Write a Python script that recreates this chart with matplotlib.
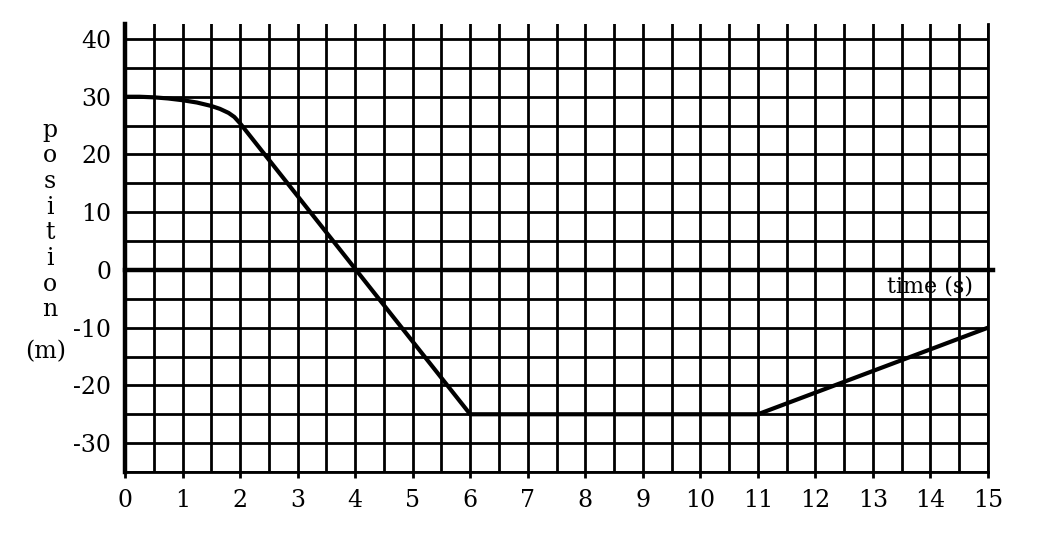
import matplotlib
matplotlib.use("Agg")
import matplotlib.pyplot as plt
import numpy as np

# data
time_s = [0, 0.25, 0.5, 0.75, 1.0, 1.25, 1.5, 1.65, 1.8, 1.9, 2.0, 6.0, 11.0, 15.0]
position_m = [30, 30.0, 29.9, 29.7, 29.4, 29.0, 28.4, 27.9, 27.2, 26.5, 25.4, -25, -25, -10]

x_ticks = list(range(0, 16))
x_ticklabels = [str(v) for v in x_ticks]
y_ticks = [-30, -20, -10, 0, 10, 20, 30, 40]
y_ticklabels = ["-30", "-20", "-10", "0", "10", "20", "30", "40"]
x_minor = [v + 0.5 for v in range(0, 15)]
y_minor = [-35, -25, -15, -5, 5, 15, 25, 35]

plt.rcParams['font.family'] = ['DejaVu Serif']

fig = plt.figure(figsize=(10.44, 5.44), dpi=100)
ax = fig.add_axes([125/1044, 1-472/544, (988-125)/1044, (472-24)/544])
ax.set_xlim(0, 15)
ax.set_ylim(-35, 42.6)

grid_lw = 2.0
fs = 17
ax.set_xticks(x_ticks)
ax.set_xticklabels(x_ticklabels, fontsize=fs)
ax.set_xticks(x_minor, minor=True)
ax.set_yticks(y_ticks)
ax.set_yticklabels(y_ticklabels, fontsize=fs)
ax.set_yticks(y_minor, minor=True)
ax.grid(True, which='both', color='black', linewidth=grid_lw)
ax.tick_params(axis='x', which='major', length=4, width=grid_lw, pad=8, colors='black')
ax.tick_params(axis='x', which='minor', length=0)
ax.tick_params(axis='y', which='both', length=0, pad=10)

ax.spines['top'].set_visible(False)
ax.spines['left'].set_linewidth(3.2)
ax.spines['bottom'].set_linewidth(grid_lw)
ax.spines['right'].set_linewidth(grid_lw)

ax.axhline(0, xmin=0, xmax=1.006, color='black', linewidth=3.2, clip_on=False, zorder=3)

ax.plot(time_s, position_m, color='black', linewidth=3.0, solid_joinstyle='round',
        solid_capstyle='round', zorder=4)

ax.text(14.0, -2.8, "time (s)", fontsize=16, ha='center', va='center')

label_chars = list("position")
for i, ch in enumerate(label_chars):
    fig.text(50/1044, 1-(130 + i*25.7)/544, ch, fontsize=17, ha='center', va='center')
fig.text(46/1044, 1-352/544, "(m)", fontsize=17, ha='center', va='center')

fig.savefig("out.png", dpi=100, facecolor='white')
